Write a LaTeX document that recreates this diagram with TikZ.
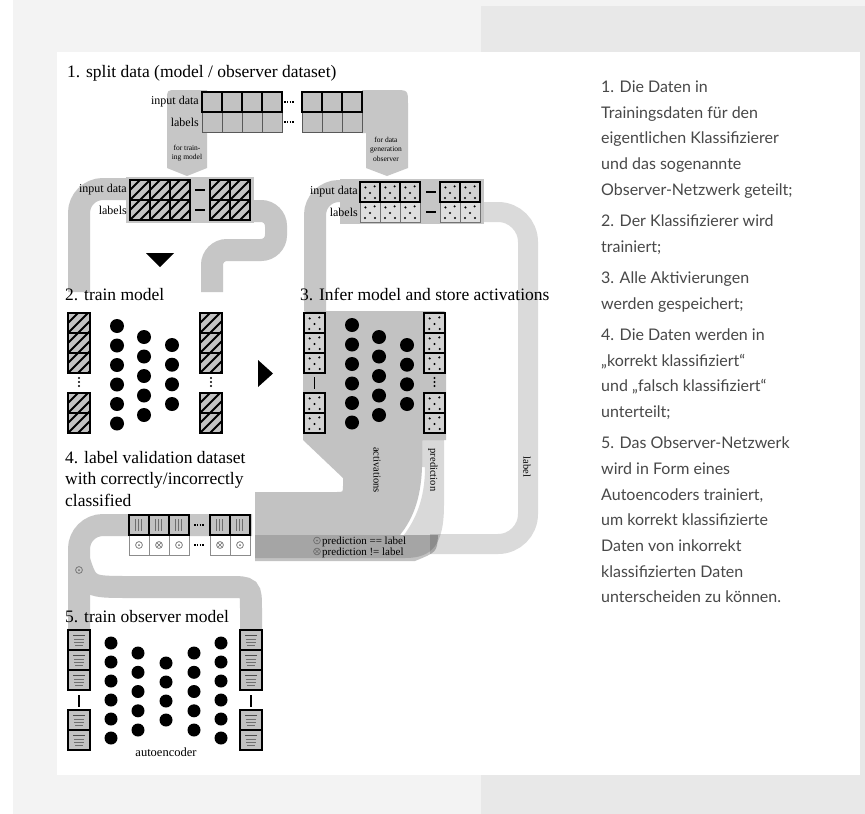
\documentclass[tikz,border=0pt]{standalone}
\usepackage{fontspec}
\setmainfont{Liberation Serif}
\newfontfamily\sidefont{Lato}
\definecolor{pagebg}{HTML}{F3F3F3}
\definecolor{colbg}{HTML}{E8E8E8}
\definecolor{bandc}{HTML}{C6C6C6}
\definecolor{lblband}{HTML}{DADADA}
\definecolor{cellc}{HTML}{C2C2C2}
\definecolor{dcell}{HTML}{D2D2D2}
\definecolor{lcell}{HTML}{DEDEDE}
\definecolor{sidetext}{HTML}{484848}
\definecolor{symgray}{HTML}{6E6E6E}
\newcommand\HCell[4]{%
  \fill[cellc] (#1,#2) rectangle ++(#3,#4);
  \begin{scope}
    \clip (#1,#2) rectangle ++(#3,#4);
    \foreach \q in {-20,-10,...,20} \draw[line width=1.8] ({#1+\q},{#2+#4}) -- ++(25,-25);
  \end{scope}
  \draw[line width=1.5] (#1,#2) rectangle ++(#3,#4);}
\newcommand\DCell[6]{%
  \fill[#5] (#1,#2) rectangle ++(#3,#4);
  \foreach \pa/\pb in {.27/.27,.73/.22,.5/.55,.25/.8,.75/.8}
    \fill ({#1+\pa*#3},{#2+\pb*#4}) circle[radius=1.2pt];
  \draw[#6] (#1,#2) rectangle ++(#3,#4);}
\newcommand\ACell[2]{%
  \fill[cellc] (#1,#2) rectangle ++(20,20);
  \foreach \pa in {6,9,12} \draw[symgray, line width=0.8] ({#1+\pa},{#2+4}) -- ++(0,12);
  \draw[line width=1.4] (#1,#2) rectangle ++(20,20);}
\newcommand\LCell[2]{%
  \fill[cellc] (#1,#2) rectangle ++(22,20);
  \draw[black!70, line width=0.9] ({#1+5},{#2+5}) -- ++(12,0);
  \draw[symgray, line width=0.6] ({#1+6},{#2+9}) -- ++(10,0);
  \draw[symgray, line width=0.6] ({#1+6},{#2+12}) -- ++(10,0);
  \draw[symgray, line width=0.6] ({#1+7},{#2+15}) -- ++(8,0);
  \draw[line width=1.3] (#1,#2) rectangle ++(22,20);}
\newcommand\OkSym[2]{%
  \draw[symgray, line width=0.7] (#1,#2) circle[radius=3.4pt];
  \fill[symgray] (#1,#2) circle[radius=1pt];}
\newcommand\BadSym[2]{%
  \draw[symgray, line width=0.7] (#1,#2) circle[radius=3.4pt];
  \draw[symgray, line width=0.6] ({#1-2.2},{#2-2.2}) -- ({#1+2.2},{#2+2.2}) ({#1-2.2},{#2+2.2}) -- ({#1+2.2},{#2-2.2});}
\newcommand\VDots[2]{%
  \foreach \pa in {-4,0,4} \fill ({#1},{#2+\pa}) circle[radius=1.2pt];}
\begin{document}
\begin{tikzpicture}[x=1pt,y=-1pt,
  ttl/.style={anchor=base west, font=\fontsize{17.5}{21.5}\selectfont, inner sep=0pt},
  rowlbl/.style={anchor=east, font=\fontsize{12}{12}\selectfont, inner sep=0pt},
  tinylbl/.style={font=\fontsize{7.5}{9.5}\selectfont, align=center, inner sep=0pt},
  legendtxt/.style={anchor=base west, font=\fontsize{11}{11}\selectfont, inner sep=0pt},
  rottxt/.style={rotate=-90, font=\fontsize{10.5}{10.5}\selectfont, inner sep=0pt},
  band/.style={draw=bandc, line width=22pt},
  sidetxt/.style={anchor=base west, inner sep=0pt, font=\sidefont\fontsize{16}{20}\selectfont, text=sidetext}]
\useasboundingbox (0,0) rectangle (865,814);
% page background
\fill[pagebg] (13,0) rectangle (865,814);
\fill[colbg] (481,6) rectangle (865,814);
\fill[white] (57,52) rectangle (860,775);

% ---------- section 1 ----------
\node[ttl] (t1) at (67,77) {1. split data (model / observer dataset)};
\fill[bandc] (207,90) -- (177,90) .. controls (167,90) .. (167,100) -- (167,168) -- (187,176) -- (207,168) -- cycle;
\fill[bandc] (362,90) -- (394,90) .. controls (408,90) .. (408,104) -- (408,168) -- (387,176) -- (366,168) -- (366,133) -- (362,133) -- cycle;
\node[tinylbl] (fortrain) at (187,153) {for train-\\ing model};
\node[tinylbl] (fordata) at (386,149) {for data\\generation\\observer};
\foreach \xx in {202,222,242,262,302,322,342} {
  \fill[cellc] (\xx,112) rectangle ++(20,20);
  \draw[black!65, line width=1] (\xx,112) rectangle ++(20,20);
  \fill[cellc] (\xx,92) rectangle ++(20,20);
  \draw[line width=1.5] (\xx,92) rectangle ++(20,20);
}
\draw[line width=2, dash pattern=on 1.6pt off 1.2pt] (284,102) -- (294,102);
\draw[line width=2, dash pattern=on 1.6pt off 1.2pt] (284,122) -- (294,122);
\node[rowlbl] (r1in) at (199,102) {input data};
\node[rowlbl] (r1lb) at (199,122) {labels};

% model dataset (hatched)
\fill[bandc] (126,177) rectangle (254,223);
\draw[band, rounded corners=24pt] (130,189) -- (79,189) -- (79,292);
\draw[band, rounded corners=15pt] (248,211) -- (276,211) -- (276,250) -- (212,250) -- (212,292);
\foreach \xx in {130,150,170,210,230} { \HCell{\xx}{180}{20}{20} \HCell{\xx}{200}{20}{20} }
\draw[line width=1.6] (195,190) -- (205,190);
\draw[line width=1.6] (195,210) -- (205,210);
\node[rowlbl] (r2in) at (127,190) {input data};
\node[rowlbl] (r2lb) at (127,210) {labels};

% observer dataset (dotted)
\draw[draw=lblband, line width=20pt, rounded corners=30pt] (478,212) -- (528,212) -- (528,544) -- (430,544);
\fill[bandc] (340,179) rectangle (484,224);
\draw[band, rounded corners=24pt] (362,191) -- (315,191) -- (315,311);
\foreach \xx in {360,380,400,440,460} {
  \DCell{\xx}{202}{20}{20}{lcell}{draw=black!55, line width=1}
  \DCell{\xx}{182}{20}{20}{dcell}{draw=black, line width=1.4}
}
\draw[line width=1.6] (426,192) -- (436,192);
\draw[line width=1.6] (426,212) -- (436,212);
\node[rowlbl] (r3in) at (358,192) {input data};
\node[rowlbl] (r3lb) at (358,212) {labels};

% ---------- section 2 ----------
\fill (146,253) -- (174,253) -- (160,267) -- cycle;
\node[ttl] (t2) at (65,300) {2. train model};
\foreach \yy in {313,333,353,393,413} { \HCell{68}{\yy}{22}{20} \HCell{200}{\yy}{22}{20} }
\VDots{79}{382} \VDots{211}{382}
\foreach \yy in {326,345.5,365,384.5,404,423.5} \fill (117,\yy) circle[radius=7pt];
\foreach \yy in {337,356.5,376,395.5,415} \fill (144,\yy) circle[radius=7pt];
\foreach \yy in {345,364.7,384.3,404} \fill (172,\yy) circle[radius=7pt];
\fill (258,360) -- (258,387) -- (273,373.5) -- cycle;

% ---------- section 3 ----------
\node[ttl] (t3) at (300,300) {3. Infer model and store activations};
\fill[black, opacity=0.24] (303,318) .. controls (303,311) .. (310,311) -- (440,311) .. controls (446,311) .. (446,317) -- (446,440) -- (422,440) -- (422,467) .. controls (421,500) and (412,520) .. (400,535) -- (438,535) .. controls (437,552) .. (415,561) -- (255,561) -- (255,492) -- (337,492) .. controls (343,492) .. (343,486) -- (343,478) -- (303,440) -- cycle;
\fill[black, opacity=0.15] (422,440) -- (444,440) -- (444,505) .. controls (444,545) and (432,558) .. (405,558) -- (255,558) -- (255,535) -- (404,535) .. controls (415,520) and (425,500) .. (425,467) -- (422,467) -- cycle;
\foreach \yy in {313,333,353,393,413} {
  \DCell{304}{\yy}{21}{20}{dcell}{draw=black, line width=1.3}
  \DCell{424}{\yy}{21}{20}{dcell}{draw=black, line width=1.3}
}
\draw[line width=1.3] (314.5,377) -- (314.5,389);
\VDots{434.5}{382}
\foreach \yy in {325,344.5,364,383.5,403,422.5} \fill (352,\yy) circle[radius=7pt];
\foreach \yy in {337,356.5,376,395.5,415} \fill (379,\yy) circle[radius=7pt];
\foreach \yy in {345,364.7,384.3,404} \fill (407,\yy) circle[radius=7pt];
\node[rottxt] (act) at (377,470) {activations};
\node[rottxt] (pred) at (433,470) {prediction};
\node[rottxt] (lab) at (527,467) {label};
\OkSym{317}{540.5}
\BadSym{317}{551.5}
\node[legendtxt] (leg1) at (322,544) {prediction == label};
\node[legendtxt] (leg2) at (322,555) {prediction != label};

% ---------- section 4 ----------
\node[ttl] (t4a) at (65,463) {4. label validation dataset};
\node[ttl] (t4b) at (65,484.5) {with correctly/incorrectly};
\node[ttl] (t4c) at (65,506) {classified};
\draw[band, rounded corners=24pt] (252,525) -- (79,525) -- (79,632);
\draw[band] (79,560) .. controls (88,587) .. (130,587) -- (228,587) .. controls (251,587) .. (251,610) -- (251,632);
\foreach \xx in {129,149,169,210,230} {
  \fill[white] (\xx,535) rectangle ++(20,20);
  \draw[black!45, line width=1] (\xx,535) rectangle ++(20,20);
  \ACell{\xx}{515}
}
\OkSym{139}{545} \BadSym{159}{545} \OkSym{179}{545} \BadSym{220}{545} \OkSym{240}{545}
\draw[line width=2, dash pattern=on 1.6pt off 1.2pt] (194,525) -- (205,525);
\draw[line width=2, dash pattern=on 1.6pt off 1.2pt] (194,545) -- (205,545);
\OkSym{79}{570}

% ---------- section 5 ----------
\node[ttl] (t5) at (65,622) {5. train observer model};
\foreach \yy in {630,650,670,710,730} { \LCell{68}{\yy} \LCell{240}{\yy} }
\draw[line width=1.3] (79,695) -- (79,707);
\draw[line width=1.3] (251,695) -- (251,707);
\foreach \xx in {111,221} \foreach \yy in {643,662,681,700,719,738} \fill (\xx,\yy) circle[radius=6.5pt];
\foreach \xx in {138,194} \foreach \yy in {653,672.3,691.5,710.8,730} \fill (\xx,\yy) circle[radius=6.5pt];
\foreach \yy in {663,682,701,720} \fill (166,\yy) circle[radius=6.5pt];
\node[font=\fontsize{12.5}{12.5}\selectfont, inner sep=0pt] (ae) at (166,752) {autoencoder};

% ---------- side text ----------
\foreach \yy/\txt [count=\i] in {
  92.5/{1. Die Daten in},
  118.2/{Trainingsdaten für den},
  143.9/{eigentlichen Klassifizierer},
  169.6/{und das sogenannte},
  195.3/{Observer-Netzwerk geteilt;},
  226.5/{2. Der Klassifizierer wird},
  252.2/{trainiert;},
  283.4/{3. Alle Aktivierungen},
  309.1/{werden gespeichert;},
  340.3/{4. Die Daten werden in},
  366/{„korrekt klassifiziert“},
  391.7/{und „falsch klassifiziert“},
  417.4/{unterteilt;},
  448.6/{5. Das Observer-Netzwerk},
  474.3/{wird in Form eines},
  500/{Autoencoders trainiert,},
  525.7/{um korrekt klassifizierte},
  551.4/{Daten von inkorrekt},
  577.1/{klassifizierten Daten},
  602.8/{unterscheiden zu können.}}
  \node[sidetxt] (s\i) at (601,\yy) {\txt};
\end{tikzpicture}
\end{document}
